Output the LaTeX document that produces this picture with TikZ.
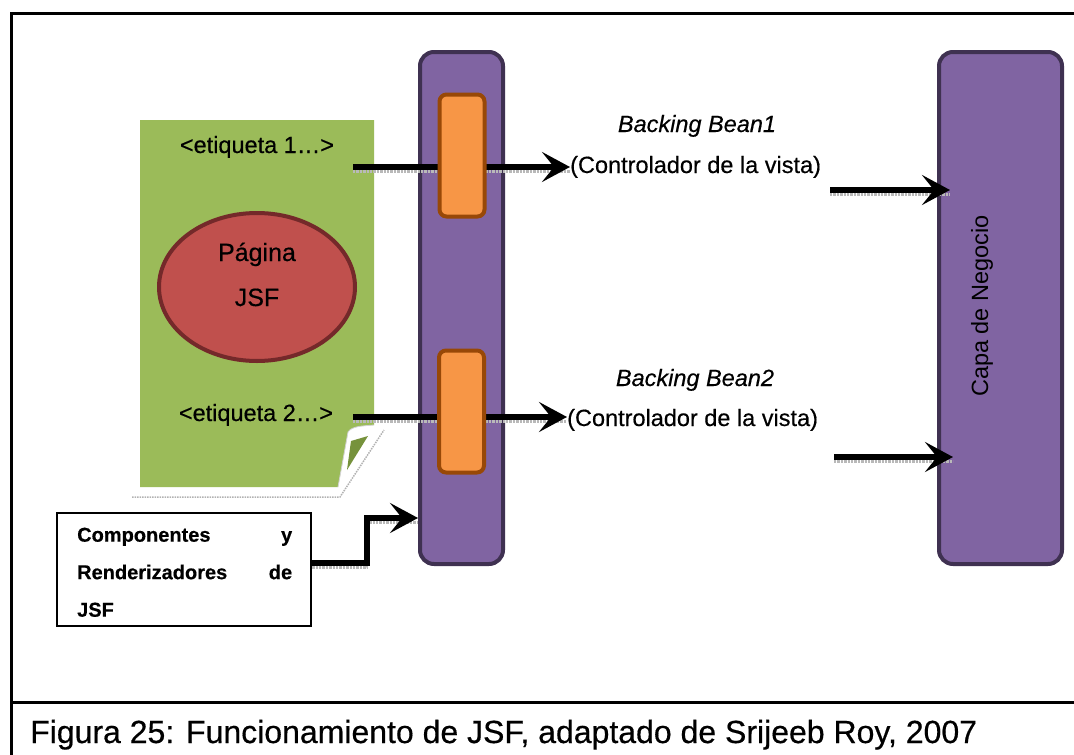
\documentclass[tikz,border=0pt]{standalone}
\usepackage{fontspec}
\setmainfont{Liberation Sans}[FakeBold=0.45]
\newfontfamily\plainsans{Liberation Sans}
\usetikzlibrary{arrows.meta,shapes.geometric,calc}

\definecolor{pagegreen}{HTML}{9BBB59}
\definecolor{flapgreen}{HTML}{76923C}
\definecolor{jsfred}{HTML}{C0504D}
\definecolor{jsfredline}{HTML}{74292A}
\definecolor{layerfill}{HTML}{8064A2}
\definecolor{layerline}{HTML}{3F3151}
\definecolor{tagfill}{HTML}{F79646}
\definecolor{tagline}{HTML}{984807}

\begin{document}
\begin{tikzpicture}[x=1pt,y=-1pt,
  frameline/.style={line width=3pt},
  layer/.style={draw=layerline, fill=layerfill, line width=4pt,
    rounded corners=14pt, inner sep=0pt},
  tagbox/.style={draw=tagline, fill=tagfill, line width=4pt,
    rounded corners=7pt, minimum width=45pt, minimum height=122pt, inner sep=0pt},
  lbl/.style={font=\fontsize{23.5}{28}\selectfont, inner sep=0pt},
  flow/.style={line width=6.5pt, -{Stealth[length=28pt,width=30pt,inset=12pt]},
    preaction={draw=gray!55, -, densely dotted, line width=2.4pt,
      transform canvas={yshift=-4.5pt}}},
]
\useasboundingbox (0,0) rectangle (1074,755);

% outer frame and caption divider
\draw[frameline] (1080,13) -| (11,760);
\draw[frameline] (11,702) -- (1080,702);

% JSF page with curled corner
\fill[pagegreen] (140,120) -- (374,120) -- (374,425)
  .. controls (362,426) and (352,426) .. (348,432) -- (338,487) -- (140,487) -- cycle;
\draw[gray!35, line width=0.8pt] (374,425) .. controls (362,426) and (352,426) .. (348,432) -- (338,487);
\fill[flapgreen] (351,441) -- (368,436) -- (347,470) -- cycle;
\draw[gray!60, densely dotted, line width=1.5pt] (132,497) -- (340,497) -- (384,430);

\node[ellipse, draw=jsfredline, fill=jsfred, line width=4pt,
  minimum width=196pt, minimum height=148pt, inner sep=0pt] (jsf) at (257,287) {};
\node[lbl, font=\fontsize{25}{30}\selectfont, anchor=base] (pagina) at (257,261) {Página};
\node[lbl, font=\fontsize{25}{30}\selectfont, anchor=base] (jsfname) at (257,306) {JSF};

\node[lbl, anchor=base] (tag1) at (257,153) {<etiqueta 1…>};
\node[lbl, anchor=base] (tag2) at (256,421) {<etiqueta 2…>};

% view layer and business layer
\node[layer, minimum width=83pt, minimum height=512pt] (view) at (461.5,308) {};
\node[layer, minimum width=123pt, minimum height=512pt] (capa) at (1000.5,308) {};
\node[lbl, font=\plainsans\fontsize{23.5}{28}\selectfont, rotate=90] (capatext) at (982,306) {Capa de Negocio};

% backing bean labels
\node[lbl, anchor=base, font=\fontsize{23.5}{28}\selectfont\itshape] (bb1) at (697,132) {Backing Bean1};
\node[lbl, anchor=base west] (ctl1) at (570,173) {(Controlador de la vista)};
\node[lbl, anchor=base, font=\fontsize{23.5}{28}\selectfont\itshape] (bb2) at (695,386) {Backing Bean2};
\node[lbl, anchor=base west] (ctl2) at (567,426) {(Controlador de la vista)};

% request flow from tags through the view layer
\coordinate (e1) at (353,167);
\coordinate (e2) at (353,417);
\draw[flow] (e1) -- (e1 -| ctl1.west);
\draw[flow] (e2) -- (e2 -| ctl2.west);

\node[tagbox] (tagcomp1) at (462,155.5) {};
\node[tagbox] (tagcomp2) at (461.5,411.5) {};

% backing beans to business layer
\coordinate (o1) at (830,190);
\coordinate (o2) at (834,457);
\draw[flow] (o1) -- ([xshift=13pt]o1 -| capa.west);
\draw[flow] (o2) -- ([xshift=16pt]o2 -| capa.west);

% components and renderers
\node[draw, fill=white, line width=2.5pt, minimum width=254pt, minimum height=113pt,
  inner sep=0pt] (comp) at (184,569.5) {};
\node[anchor=north west, inner sep=0pt, text width=215pt, align=left,
  font=\bfseries\fontsize{20}{37.5}\selectfont] (comptext) at (77,527.5)
  {\makebox[215pt][l]{Componentes\hfill y}\\\makebox[215pt][l]{Renderizadores\hfill de}\\JSF};
\coordinate (k0) at (comp.east |- 0,563);
\coordinate (k1) at (367,518);
\draw[flow] (k0) -| (k1) -- (k1 -| view.west);

% caption
\node[anchor=base west, inner sep=0pt, font=\fontsize{32}{38}\selectfont] (caption) at (30,743)
  {Figura 25: Funcionamiento de JSF, adaptado de Srijeeb Roy, 2007};
\end{tikzpicture}
\end{document}
